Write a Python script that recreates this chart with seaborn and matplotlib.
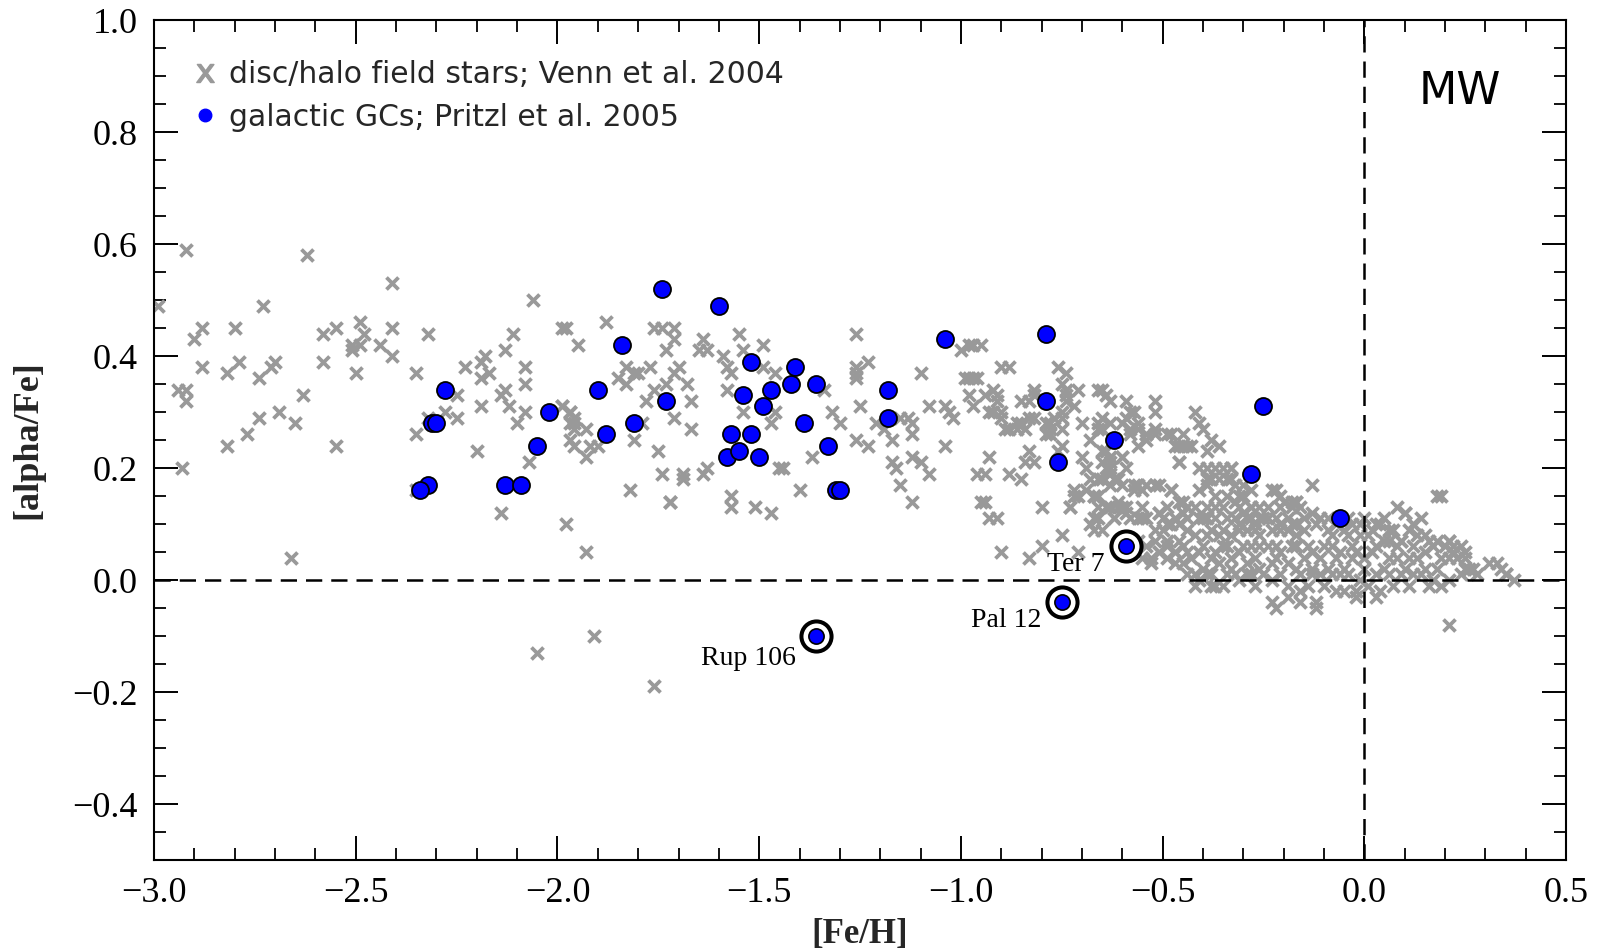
import matplotlib
matplotlib.use("Agg")
import matplotlib.pyplot as plt
from matplotlib.lines import Line2D
from matplotlib.ticker import MultipleLocator
import seaborn as sns

# ---------------- data ----------------
# disc/halo field stars (Venn et al. 2004): [Fe/H], [alpha/Fe]
field_feh = [
    -2.92, -2.62, -2.41, -2.06, -2.99, -2.73, -2.88, -2.90, -2.80, -2.58, -2.55, -2.49, -2.48, -2.51, -2.49,
    -2.51, -2.44, -2.41, -2.41, -2.32, -2.11, -1.99, -2.58, -2.88, -2.79, -2.70, -2.71, -2.82, -2.74, -2.50,
    -2.35, -2.18, -2.19, -2.17, -2.19, -2.23, -2.13, -2.08, -2.08, -2.94, -2.92, -2.92, -2.63, -2.25, -2.28,
    -2.25, -2.32, -2.35, -2.14, -2.13, -2.12, -2.19, -2.08, -2.10, -1.99, -1.97, -1.97, -1.97, -2.69, -2.74,
    -2.65, -2.77, -2.82, -2.55, -2.93, -2.20, -2.07, -2.14, -1.98, -2.35,
    -2.66, -1.93, -1.72, -1.57, -1.51, -1.47, -2.05, -1.91, -1.76,
    -1.98, -1.88, -1.95, -1.76, -1.74, -1.71, -1.71, -1.73, -1.64, -1.65, -1.63, -1.59, -1.55, -1.54, -1.49,
    -1.58, -1.57, -1.83, -1.81, -1.80, -1.77, -1.70, -1.71, -1.85, -1.83, -1.73, -1.68, -1.76, -1.49, -1.46,
    -1.58, -1.78, -1.67, -1.99, -1.97, -1.96, -1.96, -1.96, -1.93, -1.71, -1.79, -1.67, -1.54, -1.47, -1.46,
    -1.81, -1.96, -1.92, -1.90, -1.93, -1.75, -1.74, -1.69, -1.69, -1.64, -1.63, -1.82, -1.72, -1.57, -1.45,
    -1.44, -1.40, -1.37, -1.32, -1.30, -1.34, -1.26, -1.26, -1.26, -1.26, -1.23, -1.25, -1.26, -1.23, -1.10,
    -1.08, -1.21, -1.19, -1.15, -1.13, -1.12, -1.12, -1.17, -1.04, -1.03, -1.02, -1.04, -1.17, -1.16, -1.12,
    -1.10, -1.08, -1.15, -1.12, -1.00, -0.98, -0.97, -0.98, -0.97, -0.98, -0.97, -0.96,
    -0.95, -0.90, -0.88, -0.99, -0.96, -0.94, -0.92, -0.91, -0.91, -0.93, -0.92, -0.90, -0.90, -0.88, -0.86,
    -0.85, -0.84, -0.82, -0.85, -0.83, -0.82, -0.76, -0.74, -0.75, -0.74, -0.71, -0.74, -0.72, -0.75, -0.78,
    -0.78, -0.78, -0.70, -0.68, -0.66, -0.65, -0.64, -0.66, -0.65, -0.63, -0.59, -0.58, -0.56, -0.58, -0.56,
    -0.54, -0.75, -0.76, -0.70, -0.69, -0.68, -0.65, -0.65, -0.63, -0.63, -0.65, -0.63, -0.60, -0.59, -0.93,
    -0.94, -0.88, -0.85, -0.84, -0.83, -0.82, -0.94, -0.93, -0.91, -0.80, -0.73, -0.72, -0.67, -0.66, -0.63,
    -0.61, -0.59, -0.57, -0.55, -0.54,
    -0.82, -0.74, -0.75, -0.77, -0.75, -0.89, -0.86, -0.83, -0.79, -0.79, -0.63, -0.65, -0.66, -0.59, -0.56,
    -0.58, -0.54, -0.52, -0.49, -0.45, -0.45, -0.64, -0.62, -0.60, -0.95, -0.69, -0.90, -0.83, -0.80, -0.75,
    -0.71, -0.68, -0.67, -0.53, -0.51, -0.47, -0.42, -0.38,
    -0.42, -0.41, -0.40, -0.38, -0.39, -0.48, -0.46, -0.44, -0.47, -0.52, -0.52, -0.54, -0.52, -0.57, -0.60,
    -0.46, -0.39, -0.38, -0.35, -0.33, -0.36, -0.33, -0.30, -0.31, -0.22, -0.21, -0.17, -0.13, 0.18,
    -0.48, -0.45, -0.51, -0.48, -0.45, -0.41, -0.39, -0.40, -0.37, -0.32, -0.30, -0.28, -0.29, -0.25, -0.22,
    -0.27, -0.19, -0.17, -0.13, -0.12, -0.07, -0.03, -0.01, 0.03, 0.05, 0.10, 0.12, 0.15, 0.09, 0.18,
    0.21, 0.24, 0.22, 0.25, 0.27, 0.33, 0.35, 0.37,
    -0.22, -0.12, -0.42, -0.38, -0.19, -0.16, -0.05, -0.02, 0.03, 0.16,
    -0.17, -0.11, 0.19, 0.10, 0.12, -0.01, 0.04, 0.06, -0.08, -0.04, 0.01, 0.06, 0.09, 0.13, 0.16,
    0.21, 0.22, 0.25, 0.26, 0.31, 0.34, 0.35, -0.17, -0.17, -0.13, -0.10, -0.06, -0.02, 0.02, 0.06,
    0.11, 0.15, 0.19, 0.21, 0.25, -0.17, -0.13, -0.09, -0.05, 0.00, 0.05, 0.10, 0.15, 0.18, -0.16,
    -0.11, -0.06, -0.01, 0.03, 0.09, 0.17, 0.21, -0.16, -0.12, -0.07, -0.02, 0.04, 0.21,
    -0.66, -0.64, -0.63, -0.63, -0.61, -0.60, -0.72, -0.71, -0.73, -0.67, -0.66, -0.64, -0.66, -0.67, -0.65,
    -0.62, -0.60, -0.57, -0.56, -0.54, -0.52, -0.51, -0.48, -0.46, -0.59, -0.56, -0.54, -0.51, -0.47, -0.46,
    -0.49, -0.52,
    -0.56, -0.52, -0.49, -0.46, -0.42, -0.39, -0.36, -0.33, -0.29, -0.26, -0.23, -0.19, -0.17,
    -0.51, -0.47, -0.44, -0.41, -0.37, -0.34, -0.31, -0.28, -0.24, -0.21, -0.18, -0.53,
    -0.47, -0.45, -0.40, -0.36, -0.33, -0.29, -0.26, -0.23, -0.19,
    -0.41, -0.37, -0.32, -0.31, -0.28, -0.23, -0.19, -0.23,
    -0.41, -0.39, -0.37, -0.34, -0.32, -0.30, -0.28, -0.23, -0.20, -0.18, -0.39, -0.37, -0.34, -0.31, -0.28,
    -0.24, -0.21, -0.18, -0.41, -0.37, -0.34, -0.31, -0.28, -0.24, -0.21, -0.18, -0.43, -0.46, -0.36, -0.33,
]
field_alpha = [
    0.59, 0.58, 0.53, 0.50, 0.49, 0.49, 0.45, 0.43, 0.45, 0.44, 0.45, 0.46, 0.44, 0.42, 0.42,
    0.41, 0.42, 0.45, 0.40, 0.44, 0.44, 0.45, 0.39, 0.38, 0.39, 0.39, 0.38, 0.37, 0.36, 0.37,
    0.37, 0.40, 0.39, 0.37, 0.36, 0.38, 0.41, 0.38, 0.35, 0.34, 0.34, 0.32, 0.33, 0.33, 0.30,
    0.29, 0.29, 0.26, 0.33, 0.34, 0.31, 0.31, 0.30, 0.28, 0.31, 0.30, 0.28, 0.25, 0.30, 0.29,
    0.28, 0.26, 0.24, 0.24, 0.20, 0.23, 0.21, 0.12, 0.10, 0.16,
    0.04, 0.05, 0.14, 0.13, 0.13, 0.12, -0.13, -0.10, -0.19,
    0.45, 0.46, 0.42, 0.45, 0.45, 0.45, 0.43, 0.41, 0.43, 0.41, 0.41, 0.40, 0.44, 0.41, 0.42,
    0.38, 0.37, 0.38, 0.37, 0.37, 0.38, 0.38, 0.37, 0.36, 0.35, 0.35, 0.35, 0.34, 0.38, 0.37,
    0.34, 0.32, 0.32, 0.31, 0.30, 0.29, 0.28, 0.27, 0.27, 0.29, 0.28, 0.27, 0.30, 0.28, 0.30,
    0.25, 0.24, 0.24, 0.24, 0.22, 0.23, 0.19, 0.19, 0.18, 0.19, 0.20, 0.16, 0.14, 0.15, 0.20,
    0.20, 0.16, 0.22, 0.30, 0.28, 0.34, 0.44, 0.38, 0.37, 0.36, 0.39, 0.31, 0.25, 0.24, 0.37,
    0.31, 0.28, 0.27, 0.29, 0.29, 0.28, 0.26, 0.25, 0.31, 0.30, 0.29, 0.24, 0.21, 0.20, 0.22,
    0.21, 0.19, 0.17, 0.14, 0.41, 0.42, 0.42, 0.36, 0.36, 0.33, 0.31, 0.19,
    0.42, 0.38, 0.38, 0.36, 0.36, 0.33, 0.34, 0.33, 0.32, 0.30, 0.30, 0.30, 0.29, 0.27, 0.28,
    0.28, 0.27, 0.29, 0.32, 0.32, 0.34, 0.38, 0.37, 0.35, 0.34, 0.34, 0.33, 0.31, 0.30, 0.28,
    0.27, 0.26, 0.28, 0.25, 0.34, 0.34, 0.33, 0.28, 0.27, 0.28, 0.32, 0.30, 0.28, 0.27, 0.24,
    0.26, 0.24, 0.23, 0.22, 0.20, 0.18, 0.23, 0.21, 0.22, 0.20, 0.18, 0.17, 0.22, 0.20, 0.22,
    0.19, 0.19, 0.18, 0.21, 0.23, 0.21, 0.14, 0.11, 0.11, 0.13, 0.13, 0.16, 0.15, 0.13, 0.13,
    0.14, 0.13, 0.17, 0.16, 0.17,
    0.33, 0.32, 0.29, 0.29, 0.27, 0.27, 0.27, 0.29, 0.28, 0.26, 0.32, 0.29, 0.27, 0.29, 0.27,
    0.26, 0.25, 0.26, 0.26, 0.24, 0.26, 0.20, 0.18, 0.17, 0.14, 0.16, 0.05, 0.04, 0.06, 0.08,
    0.05, 0.10, 0.11, 0.03, 0.05, 0.05, 0.01, 0.01,
    0.30, 0.28, 0.27, 0.25, 0.23, 0.26, 0.24, 0.24, 0.24, 0.32, 0.30, 0.26, 0.27, 0.30, 0.28,
    0.21, 0.20, 0.18, 0.20, 0.20, 0.18, 0.18, 0.17, 0.15, 0.16, 0.15, 0.14, 0.17, 0.15,
    0.16, 0.14, 0.12, 0.10, 0.12, 0.16, 0.13, 0.11, 0.13, 0.14, 0.12, 0.13, 0.11, 0.11, 0.11,
    0.10, 0.11, 0.10, 0.12, 0.10, 0.10, 0.10, 0.08, 0.10, 0.07, 0.12, 0.10, 0.08, 0.07, 0.07,
    0.07, 0.06, 0.05, 0.04, 0.02, 0.03, 0.01, 0.00,
    -0.05, -0.05, -0.01, -0.01, -0.03, -0.04, -0.02, -0.03, -0.03, -0.01,
    0.14, 0.11, 0.15, 0.12, 0.10, 0.10, 0.10, 0.09, 0.08, 0.08, 0.08, 0.07, 0.07, 0.08, 0.07,
    0.07, 0.06, 0.05, 0.02, 0.03, 0.02, 0.01, 0.10, 0.06, 0.05, 0.06, 0.05, 0.05, 0.05, 0.04,
    0.04, 0.05, 0.04, 0.04, 0.02, 0.02, 0.02, 0.02, 0.02, 0.02, 0.02, 0.02, 0.02, 0.02, 0.01,
    0.01, 0.01, 0.00, 0.01, 0.01, 0.00, 0.00, -0.02, -0.04, -0.02, -0.02, -0.02, -0.08,
    0.18, 0.23, 0.21, 0.19, 0.18, 0.22, 0.15, 0.15, 0.13, 0.15, 0.15, 0.13, 0.11, 0.09, 0.09,
    0.11, 0.13, 0.16, 0.17, 0.17, 0.17, 0.17, 0.16, 0.14, 0.12, 0.11, 0.11, 0.12, 0.11, 0.10,
    0.10, 0.09,
    0.07, 0.07, 0.07, 0.07, 0.08, 0.08, 0.08, 0.08, 0.09, 0.08, 0.09, 0.09, 0.08,
    0.05, 0.05, 0.05, 0.05, 0.05, 0.06, 0.05, 0.06, 0.06, 0.05, 0.06, 0.04,
    0.03, 0.03, 0.02, 0.03, 0.02, 0.03, 0.02, 0.03, 0.03,
    0.00, -0.01, 0.01, 0.00, 0.01, 0.00, -0.01, -0.04,
    0.20, 0.18, 0.20, 0.18, 0.17, 0.15, 0.16, 0.16, 0.14, 0.14, 0.17, 0.15, 0.15, 0.13, 0.13,
    0.13, 0.13, 0.13, 0.11, 0.11, 0.11, 0.10, 0.11, 0.11, 0.10, 0.10, 0.24, 0.21, 0.24, 0.20,
]

# extra field stars in the crowded thin-disc band
band_feh = [
    -0.50, -0.44, -0.38, -0.35, -0.31, -0.27, -0.21, -0.15, -0.09, -0.05, 0.02, 0.07, 0.11,
    -0.58, -0.54, -0.49, -0.45, -0.40, -0.35, -0.30, -0.26, -0.22, -0.14, -0.08, -0.03, 0.03, 0.08, 0.12, 0.17, 0.20,
    -0.55, -0.49, -0.43, -0.38, -0.33, -0.27, -0.22, -0.15, -0.11, -0.07, -0.03, 0.00, 0.08, 0.13, 0.23,
    -0.44, -0.39, -0.34, -0.29, -0.25, -0.21, -0.13, -0.08, -0.04, 0.06, 0.12, 0.14, 0.24, 0.28,
    -0.35, -0.27, -0.14, -0.10, 0.01, 0.07, 0.11, 0.19,
    -0.62, -0.58, -0.55, -0.50, -0.44, -0.39, -0.32, -0.26, -0.15, -0.09, -0.04, 0.00, 0.05, 0.14,
    -0.61, -0.55, -0.49, -0.44, -0.42, -0.35, -0.26, -0.16, 0.08,
]
band_alpha = [
    0.09, 0.09, 0.09, 0.09, 0.09, 0.09, 0.09, 0.09, 0.09, 0.09, 0.09, 0.09, 0.09,
    0.06, 0.06, 0.06, 0.06, 0.06, 0.06, 0.06, 0.06, 0.06, 0.06, 0.06, 0.06, 0.06, 0.06, 0.06, 0.06, 0.06,
    0.04, 0.04, 0.04, 0.04, 0.04, 0.04, 0.04, 0.04, 0.04, 0.04, 0.04, 0.04, 0.04, 0.04, 0.04,
    0.01, 0.01, 0.01, 0.01, 0.01, 0.01, 0.01, 0.01, 0.01, 0.01, 0.01, 0.01, 0.01, 0.01,
    -0.01, -0.01, -0.01, -0.01, -0.01, -0.01, -0.01, -0.01,
    0.11, 0.11, 0.11, 0.11, 0.11, 0.11, 0.11, 0.11, 0.11, 0.11, 0.11, 0.11, 0.11, 0.11,
    0.13, 0.13, 0.13, 0.13, 0.13, 0.13, 0.13, 0.13, 0.13,
]

# galactic GCs (Pritzl et al. 2005)
gc_feh = [-1.74, -1.60, -1.84, -1.90, -1.73, -1.88, -1.81, -1.52, -1.41, -1.42, -1.36, -1.47, -1.54,
          -1.49, -1.39, -1.33, -1.57, -1.52, -1.58, -1.55, -1.50, -1.31, -1.30, -1.18, -1.18, -1.04,
          -2.28, -2.31, -2.30, -2.02, -2.05, -2.32, -2.34, -2.13, -2.09,
          -0.79, -0.62, -0.76, -0.25, -0.28, -0.06, -0.79]
gc_alpha = [0.52, 0.49, 0.42, 0.34, 0.32, 0.26, 0.28, 0.39, 0.38, 0.35, 0.35, 0.34, 0.33,
            0.31, 0.28, 0.24, 0.26, 0.26, 0.22, 0.23, 0.22, 0.16, 0.16, 0.34, 0.29, 0.43,
            0.34, 0.28, 0.28, 0.30, 0.24, 0.17, 0.16, 0.17, 0.17,
            0.44, 0.25, 0.21, 0.31, 0.19, 0.11, 0.32]

# peculiar clusters (circled)
ring_names = ["Ter 7", "Pal 12", "Rup 106"]
ring_feh = [-0.59, -0.75, -1.36]
ring_alpha = [0.06, -0.04, -0.10]

# label anchor (right edge of text) for the circled clusters
label_feh = [-0.645, -0.80, -1.41]
label_alpha = [0.027, -0.073, -0.140]

legend_labels = ["disc/halo field stars; Venn et al. 2004", "galactic GCs; Pritzl et al. 2005"]

# ---------------- style ----------------
sns.set_style("ticks")
plt.rcParams["font.family"] = ["Liberation Serif", "DejaVu Serif"]
plt.rcParams["axes.unicode_minus"] = True
plt.rcParams["mathtext.fontset"] = "dejavusans"

fig = plt.figure(figsize=(15.98, 9.48), dpi=100)
ax = fig.add_axes([0.0964, 0.0928, 0.8836, 0.8861])

gray = "#999999"
sns.scatterplot(x=field_feh + band_feh, y=field_alpha + band_alpha, marker="x", color=gray, s=75,
                linewidth=2.7, ax=ax, legend=False, zorder=2)
sns.scatterplot(x=gc_feh, y=gc_alpha, color="#0000ff", edgecolor="black", s=150,
                linewidth=1.3, ax=ax, legend=False, zorder=4)
sns.scatterplot(x=ring_feh, y=ring_alpha, color="white", edgecolor="black", s=470,
                linewidth=2.9, ax=ax, legend=False, zorder=5)
sns.scatterplot(x=ring_feh, y=ring_alpha, color="#0000ff", edgecolor="black", s=120,
                linewidth=1.2, ax=ax, legend=False, zorder=6)

for name, lx, ly in zip(ring_names, label_feh, label_alpha):
    ax.text(lx, ly, name, ha="right", va="center", fontsize=20,
            family="Liberation Serif", color="black", zorder=7)

ax.axhline(0.0, color="black", lw=1.8, ls=(0, (6.5, 3.6)), zorder=3)
ax.axvline(0.0, color="black", lw=1.8, ls=(0, (6.5, 3.6)), zorder=3)

ax.set_xlim(-3.0, 0.5)
ax.set_ylim(-0.5, 1.0)
ax.xaxis.set_major_locator(MultipleLocator(0.5))
ax.xaxis.set_minor_locator(MultipleLocator(0.1))
ax.yaxis.set_major_locator(MultipleLocator(0.2))
ax.yaxis.set_minor_locator(MultipleLocator(0.05))
ax.tick_params(which="both", direction="in", top=True, right=True, colors="black")
ax.tick_params(which="major", length=17, width=1.4, labelsize=26, pad=12)
ax.tick_params(which="minor", length=8.5, width=1.3)
for sp in ax.spines.values():
    sp.set_linewidth(1.5)
    sp.set_color("black")

ax.set_xlabel("[Fe/H]", fontsize=25, fontweight="bold", labelpad=6)
ax.set_ylabel("[alpha/Fe]", fontsize=26, fontweight="bold", labelpad=20)

ax.text(0.925, 0.915, "MW", transform=ax.transAxes, ha="center", va="center",
        fontsize=32, family="DejaVu Sans", color="black")

handles = [
    Line2D([], [], marker=r"$\mathsf{x}$", color=gray, linestyle="none", markersize=13),
    Line2D([], [], marker="o", color="#0000ff", markeredgecolor="#0000ff", linestyle="none", markersize=9),
]
leg = ax.legend(handles, legend_labels, loc="upper left", bbox_to_anchor=(0.029, 0.952),
                frameon=False, handlelength=0.7, handletextpad=0.45, labelspacing=0.45,
                borderaxespad=0, borderpad=0,
                prop={"family": "DejaVu Sans", "size": 21.5})
for t in leg.get_texts():
    t.set_color("#262626")

fig.savefig("out.png", dpi=100)
